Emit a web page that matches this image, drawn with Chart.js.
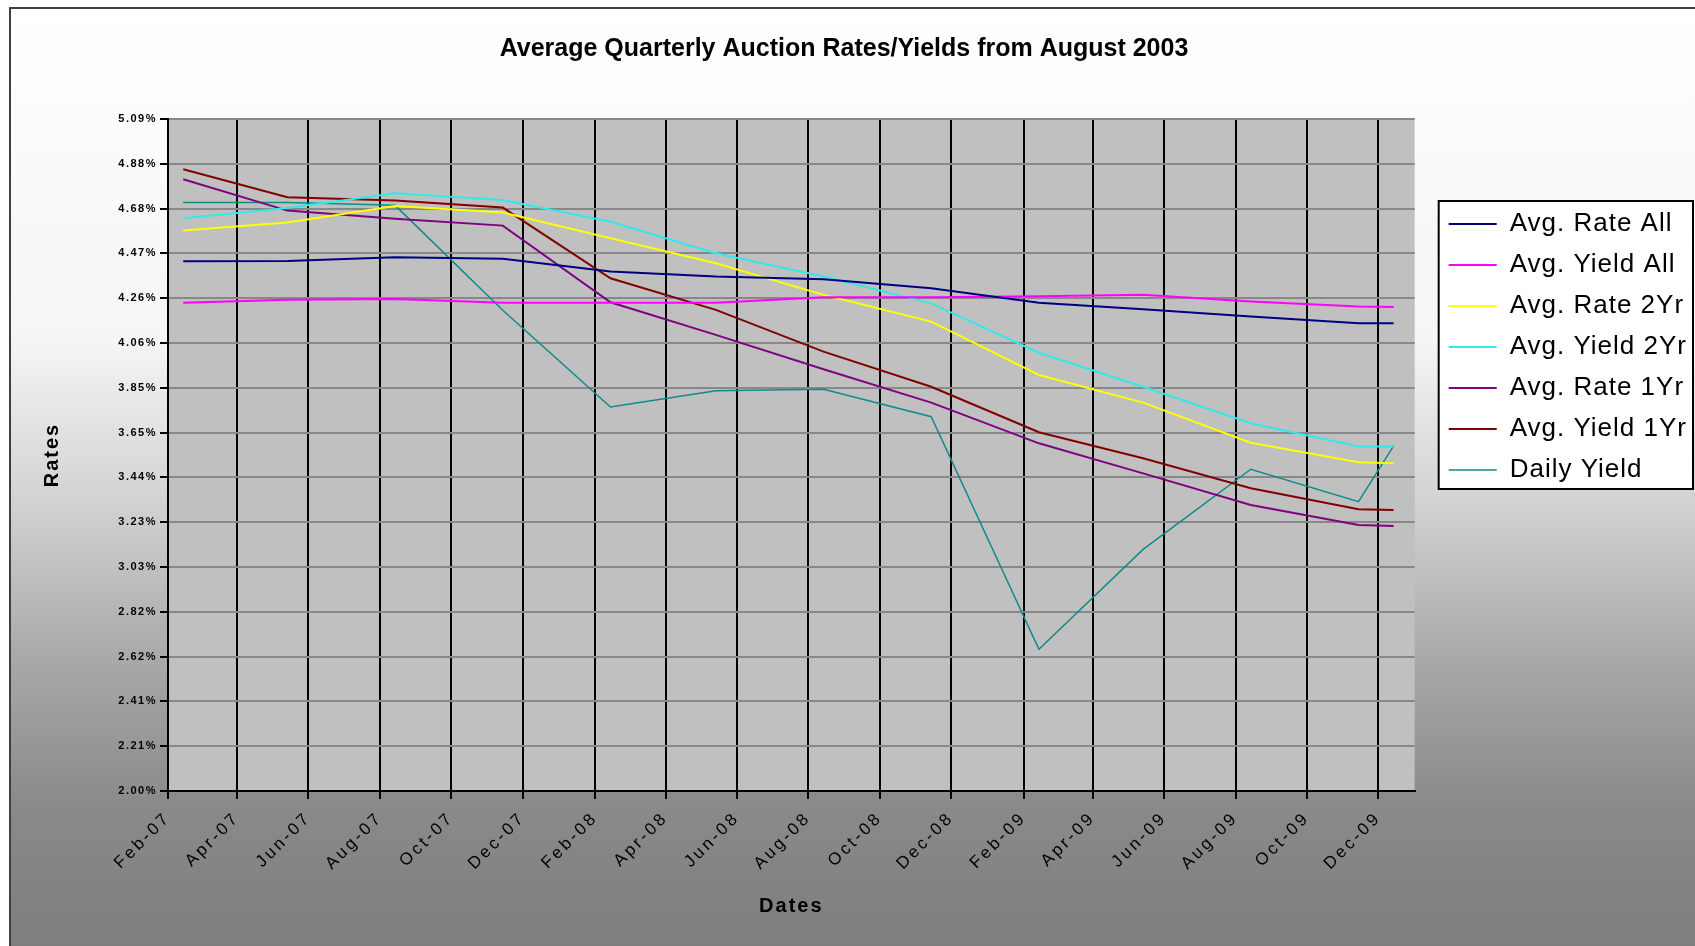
<!DOCTYPE html>
<html>
<head>
<meta charset="utf-8">
<title>Average Quarterly Auction Rates/Yields from August 2003</title>
<script src="https://cdn.jsdelivr.net/npm/chart.js@4.4.1/dist/chart.umd.min.js"></script>
<style>
  html, body { margin: 0; padding: 0; background: #fff; }
  canvas { display: block; }
</style>
</head>
<body>
<canvas id="chart" width="1695" height="946"></canvas>
<script>
// quarterly averages, plotted on a date axis
const pointDates = ['2007-02-14', '2007-05-14', '2007-08-14', '2007-11-14', '2008-02-14', '2008-05-14',
  '2008-08-14', '2008-11-14', '2009-02-14', '2009-05-14', '2009-08-14', '2009-11-14', '2009-12-14'];

const avgRateAll  = [4.433, 4.435, 4.452, 4.445, 4.386, 4.363, 4.351, 4.309, 4.243, 4.213, 4.179, 4.148, 4.148];
const avgYieldAll = [4.243, 4.256, 4.260, 4.243, 4.243, 4.243, 4.268, 4.268, 4.272, 4.279, 4.248, 4.225, 4.223];
const avgRate2Yr  = [4.574, 4.611, 4.687, 4.657, 4.539, 4.424, 4.279, 4.156, 3.911, 3.784, 3.600, 3.510, 3.505];
const avgYield2Yr = [4.631, 4.678, 4.746, 4.715, 4.615, 4.470, 4.363, 4.240, 4.013, 3.857, 3.689, 3.582, 3.582];
const avgRate1Yr  = [4.810, 4.666, 4.629, 4.597, 4.245, 4.095, 3.937, 3.784, 3.597, 3.459, 3.314, 3.222, 3.217];
const avgYield1Yr = [4.856, 4.727, 4.712, 4.680, 4.355, 4.210, 4.018, 3.857, 3.648, 3.528, 3.391, 3.294, 3.291];
const dailyYield  = [4.703, 4.703, 4.690, 4.208, 3.764, 3.839, 3.845, 3.719, 2.651, 3.110, 3.478, 3.329, 3.585];

const xTickLabels = ['Feb-07', 'Apr-07', 'Jun-07', 'Aug-07', 'Oct-07', 'Dec-07', 'Feb-08', 'Apr-08', 'Jun-08',
  'Aug-08', 'Oct-08', 'Dec-08', 'Feb-09', 'Apr-09', 'Jun-09', 'Aug-09', 'Oct-09', 'Dec-09'];
const yTickLabels = ['2.00%', '2.21%', '2.41%', '2.62%', '2.82%', '3.03%', '3.23%', '3.44%',
  '3.65%', '3.85%', '4.06%', '4.26%', '4.47%', '4.68%', '4.88%', '5.09%'];

const axisStart = '2007-02-01';
const axisEnd = '2010-01-01';
const yMin = 2.0;
const yMax = 5.0867;

const MONTHS = ['Jan', 'Feb', 'Mar', 'Apr', 'May', 'Jun', 'Jul', 'Aug', 'Sep', 'Oct', 'Nov', 'Dec'];
const dayOf = s => (Date.parse(s) - Date.parse(axisStart)) / 86400000;
const tickDays = xTickLabels.map(l => {
  const [mon, yy] = l.split('-');
  const mm = String(MONTHS.indexOf(mon) + 1).padStart(2, '0');
  return dayOf(`20${yy}-${mm}-01`);
});
const pointDays = pointDates.map(dayOf);
const yStep = (yMax - yMin) / (yTickLabels.length - 1);

const series = [
  { label: 'Avg. Rate All', values: avgRateAll, color: '#000080', width: 2 },
  { label: 'Avg. Yield All', values: avgYieldAll, color: '#ff00ff', width: 2 },
  { label: 'Avg. Rate 2Yr', values: avgRate2Yr, color: '#ffff00', width: 2 },
  { label: 'Avg. Yield 2Yr', values: avgYield2Yr, color: '#33e8e8', width: 2 },
  { label: 'Avg. Rate 1Yr', values: avgRate1Yr, color: '#800080', width: 2 },
  { label: 'Avg. Yield 1Yr', values: avgYield1Yr, color: '#800000', width: 2 },
  { label: 'Daily Yield', values: dailyYield, color: '#108a8a', width: 1.5 },
];

const FONT = "'Liberation Sans', Arial, sans-serif";
const spacing = { title: '0px', legend: '1px', xLabels: '3px', xTitle: '2px', yLabels: '1.5px', yTitle: '2px' };

function withSpacing(obj, method, value) {
  if (!obj || obj['_sp_' + method]) return;
  const orig = obj[method];
  obj[method] = function (...args) {
    const ctx = this.ctx;
    const prev = ctx.letterSpacing;
    ctx.letterSpacing = value;
    const out = orig.apply(this, args);
    ctx.letterSpacing = prev;
    return out;
  };
  obj['_sp_' + method] = true;
}

const framePlugin = {
  id: 'frame',
  beforeLayout(chart) {
    chart.ctx.letterSpacing = spacing.legend;
  },
  afterLayout(chart) {
    chart.ctx.letterSpacing = '0px';
    // legend sits a little away from the plot, near the top
    const lg = chart.legend;
    lg.left = chart.chartArea.right + 19;
    lg.right = lg.left + lg.width;
    lg.top = 196;
    lg.bottom = lg.top + lg.height;

    withSpacing(chart.titleBlock, 'draw', spacing.title);
    withSpacing(lg, 'draw', spacing.legend);
    withSpacing(chart.scales.x, 'drawLabels', spacing.xLabels);
    withSpacing(chart.scales.x, 'drawTitle', spacing.xTitle);
    withSpacing(chart.scales.y, 'drawLabels', spacing.yLabels);
    withSpacing(chart.scales.y, 'drawTitle', spacing.yTitle);
  },
  beforeDraw(chart) {
    const { ctx, width, height, chartArea: a } = chart;
    ctx.save();
    ctx.fillStyle = '#fff';
    ctx.fillRect(0, 0, width, height);

    const g = ctx.createLinearGradient(0, 0, 0, height);
    g.addColorStop(0, '#ffffff');
    g.addColorStop(0.36, '#f5f5f5');
    g.addColorStop(0.53, '#d2d2d2');
    g.addColorStop(0.69, '#aaaaaa');
    g.addColorStop(0.85, '#8a8a8a');
    g.addColorStop(1, '#7e7e7e');
    ctx.fillStyle = g;
    ctx.fillRect(10, 8, width - 10, height - 8);
    ctx.strokeStyle = '#404040';
    ctx.lineWidth = 2;
    ctx.beginPath();
    ctx.moveTo(10, height);
    ctx.lineTo(10, 8);
    ctx.lineTo(width, 8);
    ctx.stroke();

    ctx.fillStyle = '#c0c0c0';
    ctx.fillRect(a.left, a.top, a.right - a.left, a.bottom - a.top);

    const hb = chart.legend.legendHitBoxes;
    if (hb && hb.length) {
      const l = Math.min(...hb.map(b => b.left)) - 10;
      const t = hb[0].top - 10;
      const r = Math.max(...hb.map(b => b.left + b.width)) + 6;
      const last = hb[hb.length - 1];
      const b = last.top + last.height + 6;
      ctx.fillStyle = '#ffffff';
      ctx.fillRect(l, t, r - l, b - t);
      ctx.strokeStyle = '#000';
      ctx.lineWidth = 2;
      ctx.strokeRect(l, t, r - l, b - t);
    }
    ctx.restore();
  }
};

const ctx = document.getElementById('chart').getContext('2d');
new Chart(ctx, {
  type: 'line',
  data: {
    datasets: series.map(s => ({
      label: s.label,
      data: s.values.map((v, i) => ({ x: pointDays[i], y: v })),
      borderColor: s.color,
      backgroundColor: s.color,
      borderWidth: s.width,
      pointRadius: 0,
      tension: 0,
      fill: false,
    })),
  },
  options: {
    responsive: false,
    animation: false,
    devicePixelRatio: 1,
    layout: { padding: { left: 10, top: 0, right: 17, bottom: 0 } },
    plugins: {
      title: {
        display: true,
        text: 'Average Quarterly Auction Rates/Yields from August 2003',
        color: '#000',
        font: { family: FONT, size: 25, weight: 'bold' },
        padding: { top: 34, bottom: 55 },
      },
      legend: {
        position: 'right',
        align: 'start',
        labels: {
          color: '#000',
          font: { family: FONT, size: 26 },
          usePointStyle: true,
          pointStyle: 'line',
          pointStyleWidth: 48,
          padding: 15,
        },
      },
      tooltip: { enabled: false },
    },
    scales: {
      x: {
        type: 'linear',
        min: dayOf(axisStart),
        max: dayOf(axisEnd),
        afterBuildTicks: scale => { scale.ticks = tickDays.map(v => ({ value: v })); },
        afterFit: scale => { scale.height = 155; },
        grid: { color: '#000', lineWidth: 2, tickLength: 8, tickColor: '#000', tickWidth: 2 },
        border: { color: '#000', width: 2 },
        ticks: {
          autoSkip: false,
          minRotation: 45,
          maxRotation: 45,
          padding: 9,
          color: '#000',
          font: { family: FONT, size: 17 },
          callback: (v, i) => xTickLabels[i],
        },
        title: {
          display: true,
          text: 'Dates',
          color: '#000',
          font: { family: FONT, size: 20, weight: 'bold' },
          padding: { top: 0, bottom: 28 },
        },
      },
      y: {
        type: 'linear',
        min: yMin,
        max: yMax,
        afterBuildTicks: scale => { scale.ticks = yTickLabels.map((_, i) => ({ value: yMin + i * yStep })); },
        afterFit: scale => { scale.width = 158; },
        grid: { color: '#888888', lineWidth: 2, tickLength: 8, tickColor: '#000', tickWidth: 2 },
        border: { color: '#000', width: 2 },
        ticks: {
          padding: 3,
          color: '#000',
          font: { family: FONT, size: 11, weight: 'bold' },
          callback: (v, i) => yTickLabels[i],
        },
        title: {
          display: true,
          text: 'Rates',
          color: '#000',
          font: { family: FONT, size: 20, weight: 'bold' },
          padding: { top: 30, bottom: 0 },
        },
      },
    },
  },
  plugins: [framePlugin],
});
</script>
</body>
</html>
